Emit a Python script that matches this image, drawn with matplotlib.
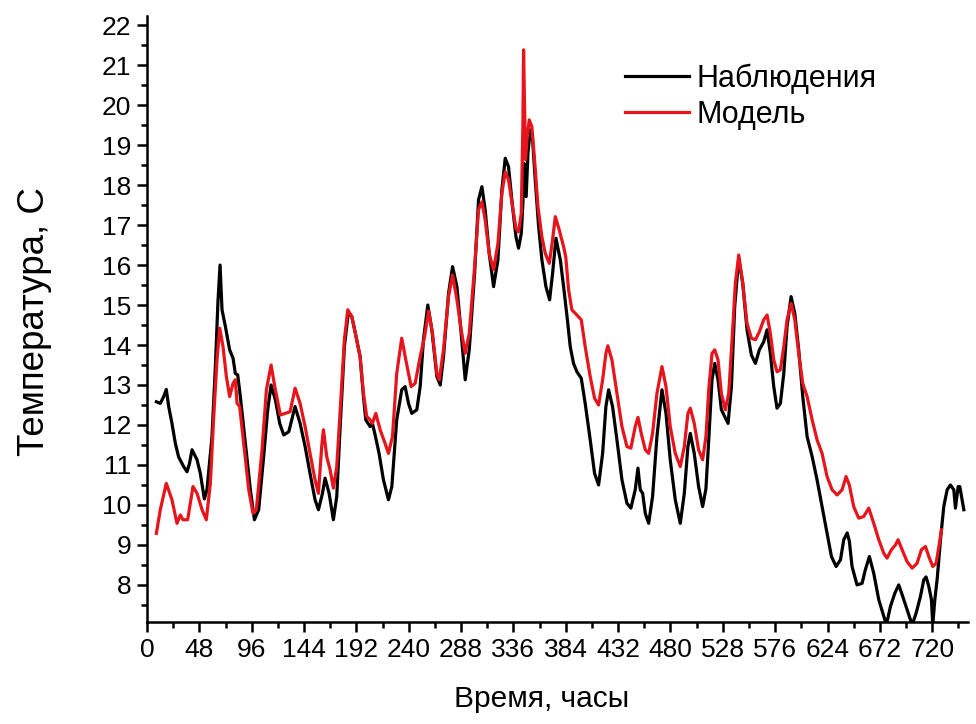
import matplotlib
matplotlib.use("Agg")
import matplotlib.pyplot as plt
from matplotlib.ticker import MultipleLocator

plt.rcParams['font.family'] = ['Liberation Sans', 'DejaVu Sans']

obs_hours = [8.6, 12.2, 15.3, 17.7, 19.9, 22.9, 26, 29, 33.6, 36.7, 39, 41.3, 45.9, 48.9, 52.6, 55,
             59.6, 62.7, 65.1, 67, 68.8, 71.9, 75.8, 78.9, 81, 83.2, 85.6, 90.2, 94.8, 98.5, 102.4,
             107, 110.7, 113.8, 117.7, 121.7, 125.4, 130, 135.8, 140.4, 145, 149.5, 154.1, 157.2,
             160.9, 163.3, 167, 170.9, 174, 177, 181, 184.7, 187.8, 191.4, 195.4, 198.5, 200.6,
             204.6, 206.7, 209.2, 212.8, 216.8, 221.4, 224.5, 229, 233.6, 236.7, 239.8, 242.8,
             247.4, 250.5, 253.5, 257.5, 261.2, 265.8, 268.9, 271.9, 276.5, 280.2, 284.2, 288.1,
             291.8, 295.5, 300.4, 304, 307.1, 310.1, 313.8, 317.8, 321.8, 325.4, 328.5, 331.5,
             335.2, 338.3, 340.7, 343.2, 344.7, 345.9, 346.8, 347.7, 349.3, 351.4, 353.6, 356,
             359.1, 362.1, 365.8, 369.2, 371.9, 375, 379, 382, 385.5, 388.1, 391.1, 394.2, 398.2,
             401.8, 406.4, 410.4, 414.1, 417.8, 420.8, 423.3, 426.9, 430.9, 435.5, 440.1, 443.7,
             447.7, 450.2, 452.3, 454.5, 456.9, 460, 463.6, 467.6, 472.2, 475.9, 479.8, 484.4,
             489, 492.7, 496, 498.2, 501.8, 505.8, 509.5, 512.5, 515.1, 518.1, 520.6, 523.6,
             526.7, 529.7, 532.8, 535.9, 538.9, 542.6, 546.3, 550.2, 554.2, 557.9, 561.5, 565.5,
             568.6, 571.6, 574.7, 577.7, 580.8, 583.9, 586.9, 590.6, 594, 597.6, 601.3, 605.3,
             609.9, 614.4, 619, 623.6, 627.6, 631.9, 635.9, 638.9, 642, 644, 646.5, 651.1, 655.7,
             658.7, 662.4, 666.4, 671, 675.6, 678, 681.7, 685.7, 689.3, 693, 697, 701.6, 705.2,
             709.2, 712.3, 714.4, 716.9, 719.3, 720.5, 722.4, 724.5, 727.6, 730.6, 733.7, 736.7,
             739.8, 741.3, 743.8, 745.3, 747.4, 749]
obs_temp = [12.58, 12.54, 12.71, 12.89, 12.46, 12.04, 11.54, 11.2, 10.96, 10.83, 11.04, 11.38, 11.13,
            10.79, 10.15, 10.38, 11.71, 13.46, 15.1, 16.0, 14.88, 14.46, 13.88, 13.67, 13.29, 13.25,
            12.71, 11.54, 10.38, 9.63, 9.88, 11.21, 12.38, 13.0, 12.63, 12.04, 11.75, 11.83, 12.46,
            12.04, 11.46, 10.79, 10.13, 9.88, 10.29, 10.67, 10.29, 9.63, 10.21, 11.88, 13.96, 14.83,
            14.71, 14.25, 13.71, 12.71, 12.13, 11.96, 12.04, 11.75, 11.29, 10.63, 10.13, 10.46, 12.13,
            12.88, 12.96, 12.54, 12.29, 12.38, 12.96, 14.13, 15.0, 14.38, 13.21, 13.0, 13.71, 15.29,
            15.96, 15.46, 14.29, 13.13, 13.88, 15.79, 17.63, 17.96, 17.38, 16.29, 15.46, 16.13, 17.88,
            18.67, 18.46, 17.46, 16.71, 16.42, 16.79, 17.54, 18.54, 18.13, 17.71, 18.79, 19.38, 19.13,
            18.13, 16.96, 16.13, 15.46, 15.13, 15.79, 16.67, 16.13, 15.46, 14.63, 13.96, 13.54, 13.33,
            13.17, 12.54, 11.63, 10.79, 10.5, 11.29, 12.46, 12.88, 12.46, 11.63, 10.63, 10.04, 9.92,
            10.38, 10.92, 10.38, 10.29, 9.79, 9.54, 10.21, 11.71, 12.88, 12.29, 11.13, 10.13, 9.54,
            10.29, 11.46, 11.79, 11.29, 10.46, 9.96, 10.4, 11.63, 13.13, 13.54, 13.13, 12.38, 12.21,
            12.04, 12.96, 14.96, 16.17, 15.54, 14.38, 13.75, 13.54, 13.88, 14.08, 14.38, 13.79, 12.96,
            12.42, 12.54, 13.29, 14.46, 15.21, 14.79, 13.88, 12.71, 11.71, 11.21, 10.63, 9.96, 9.29,
            8.71, 8.46, 8.63, 9.13, 9.3, 9.1, 8.46, 8.0, 8.04, 8.38, 8.71, 8.29, 7.63, 7.21, 7.0,
            7.46, 7.79, 8.0, 7.71, 7.38, 7.0, 7.29, 7.71, 8.13, 8.2, 7.96, 7.63, 7.0, 7.63, 8.13,
            9.13, 9.96, 10.38, 10.5, 10.38, 9.92, 10.46, 10.46, 10.13, 9.88]

model_hours = [8.6, 12.2, 17.7, 22.9, 27.5, 30.6, 33, 37.3, 42.2, 45.9, 50.5, 54.4, 58.1, 61.2, 64.2,
               66.7, 69.7, 72.8, 75.8, 78.9, 81, 82.6, 85, 88.7, 93.3, 97.2, 100.3, 105.5, 109.5,
               113.8, 117.7, 122.3, 126.9, 131.2, 135.8, 140.4, 145, 149.5, 154.1, 157.2, 160.2,
               161.8, 164.8, 167.9, 170.9, 174, 177, 181, 184.1, 187.8, 191.4, 195.4, 198.5, 201.5,
               204.6, 206.7, 209.8, 213.8, 218.3, 221.4, 225.1, 229, 233.6, 237.3, 242.2, 245.9,
               250.5, 254.5, 258.2, 261.8, 265.8, 268, 271.9, 276.5, 280.2, 284.2, 288.1, 291.8,
               295.5, 300.4, 304, 307.1, 310.1, 313.8, 317.8, 321.8, 325.4, 328.5, 331.5, 335.2,
               338.3, 340.7, 343.2, 344.7, 345.3, 346.2, 347.1, 348.4, 350.5, 352.9, 355.4, 358.5,
               362.1, 365.2, 368.9, 371.9, 374.4, 378, 382, 384, 386.6, 389.6, 394.2, 398.2, 401.8,
               406.4, 410.4, 414.1, 417.8, 420.8, 422.6, 426.3, 430.9, 435.5, 440.1, 443.7, 447.7,
               450.2, 453.2, 456.9, 460, 463.6, 467.6, 472.2, 475.9, 479.8, 484.4, 489, 492.7, 496,
               498.2, 501.8, 505.8, 509.5, 512.5, 515.1, 518.1, 520.6, 523.6, 526.7, 530.3, 533.4,
               536.5, 539.5, 542.6, 546.3, 550.2, 554.2, 557.9, 561.5, 565.5, 568.6, 571.6, 574.7,
               577.7, 580.8, 583.9, 586.9, 590.6, 594, 597.6, 601.3, 605.3, 609.9, 614.4, 619, 623.6,
               628.2, 632.8, 637.4, 641, 644, 648, 652.6, 657.2, 661.8, 666.4, 671, 675.6, 678.6,
               682.6, 686.3, 688.7, 692.4, 697, 701.6, 706.1, 710.1, 713.8, 716.9, 720.5, 723.6,
               726.6, 728.5]
model_temp = [9.29, 9.88, 10.54, 10.13, 9.54, 9.75, 9.63, 9.63, 10.46, 10.29, 9.88, 9.63, 10.54, 12.21,
              13.63, 14.42, 13.96, 13.21, 12.71, 13.04, 13.13, 12.54, 12.46, 11.54, 10.38, 9.79, 9.88,
              11.38, 12.88, 13.5, 12.88, 12.25, 12.29, 12.33, 12.92, 12.54, 11.96, 11.29, 10.63, 10.29,
              11.46, 11.88, 11.21, 10.88, 10.42, 10.96, 12.29, 14.13, 14.88, 14.71, 14.25, 13.71, 12.79,
              12.21, 12.13, 12.04, 12.29, 11.88, 11.54, 11.29, 11.71, 13.29, 14.17, 13.63, 12.96, 13.04,
              13.71, 14.2, 14.85, 14.29, 13.29, 13.13, 13.88, 15.21, 15.75, 15.13, 14.38, 13.79, 14.29,
              15.96, 17.38, 17.58, 17.13, 16.29, 15.88, 16.54, 17.79, 18.33, 18.13, 17.46, 16.92, 16.83,
              17.29, 19.54, 21.38, 19.96, 18.63, 19.13, 19.63, 19.46, 18.63, 17.46, 16.71, 16.29, 16.04,
              16.63, 17.21, 16.88, 16.46, 16.2, 15.38, 14.88, 14.75, 14.63, 13.96, 13.21, 12.67, 12.5,
              13.13, 13.79, 13.98, 13.63, 12.79, 11.96, 11.46, 11.42, 11.96, 12.19, 11.79, 11.38, 11.29,
              11.79, 12.79, 13.46, 12.96, 11.96, 11.29, 10.96, 11.46, 12.29, 12.42, 12.04, 11.38, 11.13,
              11.7, 12.88, 13.79, 13.88, 13.63, 12.79, 12.38, 12.79, 14.13, 15.54, 16.25, 15.54, 14.54,
              14.17, 14.13, 14.33, 14.63, 14.75, 14.29, 13.63, 13.33, 13.38, 13.96, 14.63, 15.04, 14.63,
              13.79, 13.04, 12.71, 12.13, 11.63, 11.29, 10.71, 10.38, 10.25, 10.38, 10.71, 10.5, 9.96,
              9.67, 9.71, 9.92, 9.54, 9.13, 8.79, 8.67, 8.88, 9.0, 9.13, 8.88, 8.58, 8.42, 8.54, 8.88,
              8.96, 8.71, 8.46, 8.54, 9.04, 9.38]

x_ticks = list(range(0, 721, 48))
y_ticks = list(range(8, 23))
series_labels = ['Наблюдения', 'Модель']

fig = plt.figure(figsize=(9.76, 7.24), dpi=100)
ax = fig.add_axes([0.1506, 0.1413, 0.8414, 0.8367])

ax.plot(obs_hours, obs_temp, color='black', lw=2.3, label=series_labels[0])
ax.plot(model_hours, model_temp, color='#e8141c', lw=2.3, label=series_labels[1])

ax.set_xlim(0, 753)
ax.set_ylim(7.08, 22.23)
ax.set_xticks(x_ticks)
ax.set_xticklabels([str(t) for t in x_ticks])
ax.set_yticks(y_ticks)
ax.xaxis.set_minor_locator(MultipleLocator(24))
ax.yaxis.set_minor_locator(MultipleLocator(0.5))

for s in ['top', 'right']:
    ax.spines[s].set_visible(False)
for s in ['left', 'bottom']:
    ax.spines[s].set_linewidth(1.8)

ax.tick_params(which='major', direction='out', length=7.5, width=1.8, labelsize=19, pad=4)
ax.tick_params(which='minor', direction='out', length=4.5, width=1.8)

ax.set_xlabel('Время, часы', fontsize=21.5)
ax.xaxis.set_label_coords(0.48, -0.105)
ax.set_ylabel('Температура, С', fontsize=26.5)
ax.yaxis.set_label_coords(-0.116, 0.495)

ax.legend(loc='upper left', bbox_to_anchor=(0.582, 0.922), frameon=False, fontsize=22,
          handlelength=2.1, handletextpad=0.24, borderpad=0, borderaxespad=0, labelspacing=0.2)

fig.savefig('out.png', dpi=100)
